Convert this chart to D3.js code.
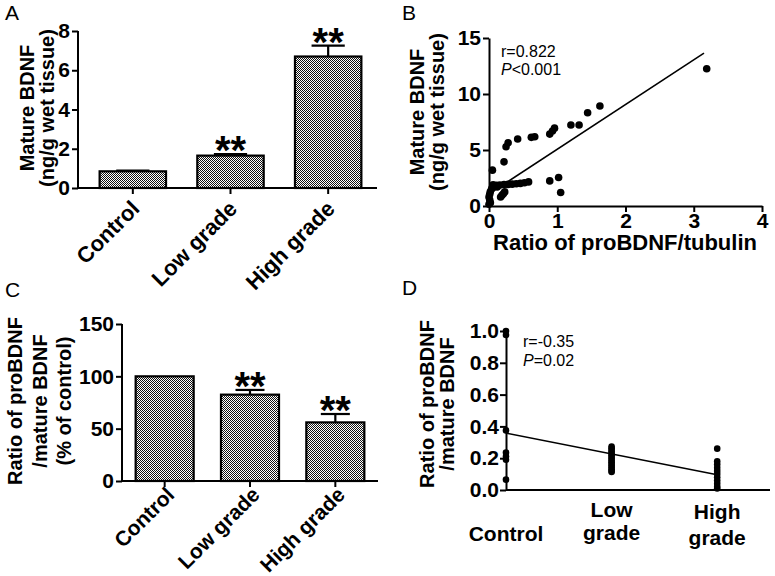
<!DOCTYPE html>
<html><head><meta charset="utf-8">
<script src="https://cdn.jsdelivr.net/npm/d3@7"></script>
<style>
body{margin:0;background:#fff;}
svg{display:block;font-family:"Liberation Sans",Arial,sans-serif;}
.ax path,.ax line{stroke:#000;stroke-width:2px;}
</style></head><body>
<script>
// ---------- DATA ----------
const categories = ["Control","Low grade","High grade"];
const aMeans = [0.85, 1.65, 6.7];
const aErrors = [0.04, 0.08, 0.55];
const aSig = ["", "**", "**"];
const aTicks = [0,2,4,6,8];

const bX = [3.19,1.625,1.445,1.32,1.20,0.96,0.93,0.89,0.67,0.62,0.42,0.28,0.25,0.22,0.05,1.02,0.89,1.05,
            0.58,0.52,0.46,0.40,0.34,0.28,0.22,0.16,0.11,0.07,0.04,0.02,0.01,0.0,0.01,0.02,0.0,0.06,0.23,0.19,0.17,0.21,0.12];
const bY = [12.25,8.93,8.33,7.23,7.23,6.95,6.70,6.42,6.18,6.13,5.98,5.65,5.29,3.94,3.20,2.54,2.24,1.20,
            2.15,2.08,2.02,1.98,1.95,1.93,1.92,1.88,1.84,1.75,1.55,1.30,1.05,0.80,0.55,0.30,0.15,1.90,1.26,0.96,0.80,1.10,1.70];
const bFit = {intercept:1.08, slope:3.99, xmin:0, xmax:3.15};
const bTicksX = [0,1,2,3,4];
const bTicksY = [0,5,10,15];

const cMeans = [100, 82.5, 56];
const cErrors = [0, 4.5, 8];
const cSig = ["", "**", "**"];
const cTicks = [0,50,100,150];

const dGroups = ["Control","Low grade","High grade"];
const dControl = [1.0,0.975,0.375,0.235,0.21,0.19,0.065];
const dLow = [0.274,0.263,0.252,0.241,0.23,0.219,0.208,0.197,0.186,0.175,0.164,0.153,0.142,0.131,0.12,0.113];
const dHigh = [0.26,0.18,0.16,0.14,0.12,0.10,0.08,0.06,0.04,0.02,0.01];
const dFit = {intercept:0.358, slope:-0.131, xmin:0, xmax:2};
const dTicks = [0,0.2,0.4,0.6,0.8,1.0];

// ---------- SVG ----------
const FF='"Liberation Sans",Arial,sans-serif';
const W=775,H=576;
const svg=d3.select("body").append("svg").attr("width",W).attr("height",H);
const defs=svg.append("defs");
const pat=defs.append("pattern").attr("id","chk").attr("width",2).attr("height",2).attr("patternUnits","userSpaceOnUse");
pat.append("rect").attr("width",2).attr("height",2).attr("fill","#fff");
pat.append("rect").attr("x",0).attr("y",0).attr("width",1).attr("height",1).attr("fill","#111");
pat.append("rect").attr("x",1).attr("y",1).attr("width",1).attr("height",1).attr("fill","#111");

function styleAxis(g,size){
  g.attr("font-family",FF);
  g.selectAll("text").style("font-family",FF).style("font-size",size+"px").style("font-weight","bold").attr("fill","#000");
}
function panelLabel(t,x,y){svg.append("text").attr("x",x).attr("y",y).attr("font-size",21).text(t);}
function yTitle(lines,cxs,cy,fs){
  lines.forEach((l,i)=>svg.append("text").attr("transform",`translate(${cxs[i]},${cy}) rotate(-90)`)
   .attr("text-anchor","middle").attr("dominant-baseline","central").attr("font-size",fs||21).attr("font-weight","bold").text(l));
}

// ---------- Bar panel helper ----------
function barPanel(o){
  const y=d3.scaleLinear().domain(o.ydom).range([o.y0,o.y1]);
  const x=d3.scaleBand().domain(categories).range([o.xb0,o.xb1]).paddingInner(0.32).paddingOuter(0.16);
  const g=svg.append("g");
  g.selectAll("rect.bar").data(o.means).join("rect").attr("class","bar")
    .attr("x",(d,i)=>x(categories[i])).attr("width",x.bandwidth())
    .attr("y",d=>y(d)).attr("height",d=>y(0)-y(d))
    .attr("fill","url(#chk)").attr("stroke","#000").attr("stroke-width",2.2);
  const cw=x.bandwidth()*0.5;
  o.means.forEach((m,i)=>{
    const cx=x(categories[i])+x.bandwidth()/2, e=o.errs[i];
    if(e>0){
      g.append("line").attr("x1",cx).attr("x2",cx).attr("y1",y(m)).attr("y2",y(m+e)).attr("stroke","#000").attr("stroke-width",2.2);
      g.append("line").attr("x1",cx-cw/2).attr("x2",cx+cw/2).attr("y1",y(m+e)).attr("y2",y(m+e)).attr("stroke","#000").attr("stroke-width",2.2);
    }
    if(o.sig[i]) g.append("text").attr("x",cx).attr("y",y(m+e)+10).attr("text-anchor","middle")
      .attr("font-size",40).attr("font-weight","bold").text(o.sig[i]);
  });
  const ya=svg.append("g").attr("class","ax").attr("transform",`translate(${o.xa},0)`)
    .call(d3.axisLeft(y).tickValues(o.ticks).tickSize(6).tickSizeOuter(0).tickPadding(2).tickFormat(d3.format("d")));
  ya.select(".domain").attr("d",`M0,${o.y1}V${o.y0}`);
  styleAxis(ya,21);
  const xa=svg.append("g").attr("class","ax").attr("transform",`translate(0,${o.y0})`)
    .call(d3.axisBottom(x).tickSize(6).tickSizeOuter(0));
  xa.select(".domain").attr("d",`M${o.xa},0H${o.xb1}`);
  styleAxis(xa,o.lfs);
  xa.selectAll("text").attr("text-anchor","end").attr("dy",null).attr("y",null)
    .attr("transform",`translate(${o.lx},${o.ly}) rotate(-45)`);
}

barPanel({ydom:[0,8],y0:188,y1:31,xa:78,xb0:84,xb1:377,means:aMeans,errs:aErrors,sig:aSig,ticks:aTicks,lx:8,ly:22,lfs:22});
barPanel({ydom:[0,150],y0:481,y1:324,xa:122,xb0:122,xb1:378,means:cMeans,errs:cErrors,sig:cSig,ticks:cTicks,lx:11,ly:15,lfs:21});

panelLabel("A",5,20);
panelLabel("B",402,20);
panelLabel("C",5,297);
panelLabel("D",402,295);
yTitle(["Mature BDNF","(ng/g wet tissue)"],[27,47],108,20);
yTitle(["Ratio of proBDNF","/mature BDNF","(% of control)"],[15,40,64],401,20);

// ---------- Panel B ----------
{
  const x=d3.scaleLinear().domain([0,4]).range([489,762]);
  const y=d3.scaleLinear().domain([0,15]).range([206,38]);
  const xa=svg.append("g").attr("class","ax").attr("transform","translate(0,206)")
    .call(d3.axisBottom(x).tickValues(bTicksX).tickSize(6).tickSizeOuter(0).tickPadding(1).tickFormat(d3.format("d")));
  styleAxis(xa,21);
  const ya=svg.append("g").attr("class","ax").attr("transform","translate(489,0)")
    .call(d3.axisLeft(y).tickValues(bTicksY).tickSize(6).tickSizeOuter(0).tickPadding(2).tickFormat(d3.format("d")));
  styleAxis(ya,21);
  svg.append("line").attr("x1",x(bFit.xmin)).attr("y1",y(bFit.intercept+bFit.slope*bFit.xmin))
    .attr("x2",x(bFit.xmax)).attr("y2",y(bFit.intercept+bFit.slope*bFit.xmax)).attr("stroke","#000").attr("stroke-width",1.6);
  svg.append("g").selectAll("circle").data(bX).join("circle")
    .attr("cx",d=>x(d)).attr("cy",(d,i)=>y(bY[i])).attr("r",3.8).attr("fill","#000");
  svg.append("text").attr("x",625).attr("y",250).attr("text-anchor","middle").attr("font-size",22).attr("font-weight","bold").text("Ratio of proBDNF/tubulin");
  yTitle(["Mature BDNF","(ng/g wet tissue)"],[417,437],112,20);
  svg.append("text").attr("x",501).attr("y",57).attr("font-size",16).text("r=0.822");
  const t=svg.append("text").attr("x",501).attr("y",75).attr("font-size",16);
  t.append("tspan").attr("font-style","italic").text("P");
  t.append("tspan").text("<0.001");
}

// ---------- Panel D ----------
{
  const x=d3.scaleLinear().domain([0,2.5]).range([506,770]);
  const y=d3.scaleLinear().domain([0,1]).range([490,331]);
  const ya=svg.append("g").attr("class","ax").attr("transform","translate(506,0)")
    .call(d3.axisLeft(y).tickValues(dTicks).tickSize(6).tickSizeOuter(0).tickPadding(1).tickFormat(d3.format(".1f")));
  styleAxis(ya,21);
  svg.append("line").attr("x1",506).attr("x2",770).attr("y1",490).attr("y2",490).attr("stroke","#000").attr("stroke-width",2);
  svg.append("line").attr("x1",x(dFit.xmin)).attr("y1",y(dFit.intercept+dFit.slope*dFit.xmin))
    .attr("x2",x(dFit.xmax)).attr("y2",y(dFit.intercept+dFit.slope*dFit.xmax)).attr("stroke","#000").attr("stroke-width",1.6);
  const pts=[];
  [dControl,dLow,dHigh].forEach((arr,gi)=>arr.forEach(v=>pts.push([gi,v])));
  svg.append("g").selectAll("circle").data(pts).join("circle")
    .attr("cx",d=>x(d[0])).attr("cy",d=>y(d[1])).attr("r",3.3).attr("fill","#000");
  const lab=[[["Control"],[541]],[["Low","grade"],[517,540]],[["High","grade"],[519,545]]];
  lab.forEach((l,gi)=>l[0].forEach((s,k)=>svg.append("text").attr("x",x(gi)).attr("y",l[1][k])
     .attr("text-anchor","middle").attr("font-size",21).attr("font-weight","bold").text(s)));
  yTitle(["Ratio of proBDNF","/mature BDNF"],[427,447],404,20);
  svg.append("text").attr("x",523).attr("y",347).attr("font-size",16).text("r=-0.35");
  const t=svg.append("text").attr("x",523).attr("y",366).attr("font-size",16);
  t.append("tspan").attr("font-style","italic").text("P");
  t.append("tspan").text("=0.02");
}
</script></body></html>
